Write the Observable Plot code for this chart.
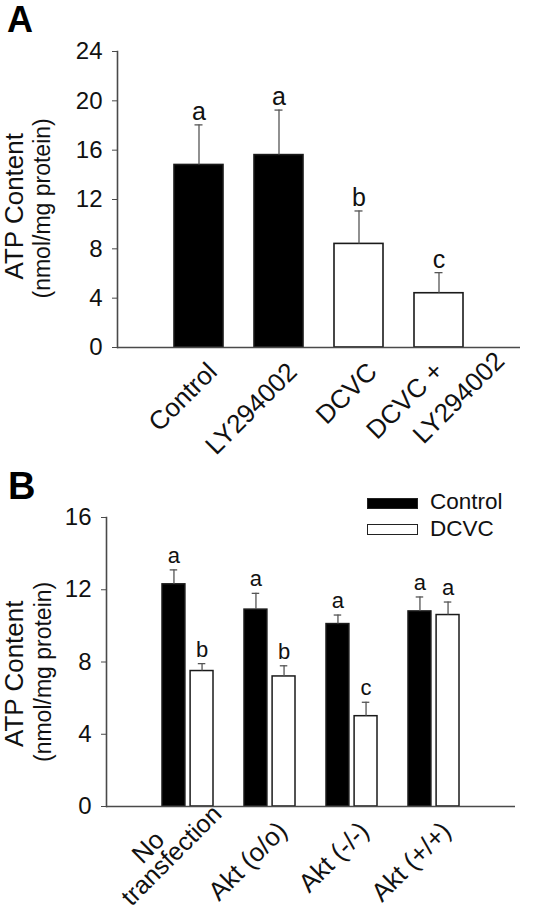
<!DOCTYPE html>
<html>
<head>
<meta charset="utf-8">
<script src="https://cdn.jsdelivr.net/npm/d3@7"></script>
<script src="https://cdn.jsdelivr.net/npm/@observablehq/plot@0.6"></script>
<style>
  html, body { margin: 0; padding: 0; background: #fff; }
  #wrap { position: relative; width: 550px; height: 916px; overflow: hidden;
          font-family: "Liberation Sans", Arial, Helvetica, sans-serif; color: #111; }
  .panelA, .panelB { position: absolute; left: 0; width: 550px; }
  .panelA { top: 0; }
  .panelB { top: 460px; }
  .panelA svg, .panelB svg { display: block; }
  .tag { position: absolute; font-weight: bold; line-height: 1; color: #000; }
  .lg-box { position: absolute; left: 367px; width: 51px; box-sizing: border-box; border: 1.5px solid #222; }
  .lg-text { position: absolute; left: 430px; font-size: 22.5px; line-height: 1; color: #111; }
</style>
</head>
<body>
<div id="wrap">
  <div class="panelA" id="panelA"></div>
  <div class="panelB" id="panelB"></div>
  <div class="tag" style="left:7px; top:2px; font-size:36px;">A</div>
  <div class="tag" style="left:8px; top:467px; font-size:38px;">B</div>
  <div class="lg-box" style="top:498px; height:11px; background:#000;"></div>
  <div class="lg-text" style="top:491px;">Control</div>
  <div class="lg-box" style="top:524px; height:11px; background:#fff;"></div>
  <div class="lg-text" style="top:518px;">DCVC</div>
</div>
<script>
// ---------- Panel A data ----------
const categoriesA = ["Control", "LY294002", "DCVC", "DCVC +\nLY294002"];
const treatmentA = ["Control", "Control", "DCVC", "DCVC"];
const meanA = [14.8, 15.6, 8.4, 4.4];
const errorA = [3.25, 3.65, 2.67, 1.67];
const letterA = ["a", "a", "b", "c"];
const ticksA = [0, 4, 8, 12, 16, 20, 24];

// ---------- Panel B data ----------
const categoriesB = ["No\ntransfection", "Akt (o/o)", "Akt (-/-)", "Akt (+/+)"];
const seriesB = ["Control", "DCVC"];
const controlMeanB = [12.3, 10.9, 10.1, 10.8];
const controlErrorB = [0.8, 0.9, 0.5, 0.8];
const dcvcMeanB = [7.5, 7.2, 5.0, 10.6];
const dcvcErrorB = [0.41, 0.59, 0.77, 0.72];
const controlLetterB = ["a", "a", "a", "a"];
const dcvcLetterB = ["b", "b", "c", "a"];
const ticksB = [0, 4, 8, 12, 16];

const yTitle = "ATP Content";
const ySubtitle = "(nmol/mg protein)";

// ---------- shared styling ----------
const FONT = "'Liberation Sans', Arial, Helvetica, sans-serif";
const INK = "#111";
const AXIS = "#4a4a4a";

function single(cats) { return cats.filter(c => !c.includes("\n")); }
function multi(cats) { return cats.filter(c => c.includes("\n")); }

// stretch the rotated titles along their baseline (they are anchored at their start)
function stretchTitles(svg, lenMain, lenSub) {
  const a = svg.querySelector('g[aria-label="y-title"] text');
  const b = svg.querySelector('g[aria-label="y-subtitle"] text');
  if (a) { a.setAttribute("textLength", lenMain); a.setAttribute("lengthAdjust", "spacingAndGlyphs"); }
  if (b) { b.setAttribute("textLength", lenSub); b.setAttribute("lengthAdjust", "spacingAndGlyphs"); }
}

// ---------- Panel A ----------
const dataA = categoriesA.map((c, i) => ({
  cat: c, group: treatmentA[i], mean: meanA[i], top: meanA[i] + errorA[i], letter: letterA[i]
}));

const plotA = Plot.plot({
  width: 550, height: 460,
  marginLeft: 117, marginRight: 30, marginTop: 51, marginBottom: 113,
  style: { fontFamily: FONT, background: "transparent", color: INK, overflow: "visible" },
  x: { domain: categoriesA, paddingInner: 0.39, paddingOuter: 0.705, axis: null },
  y: { domain: [0, 24], axis: null },
  color: { domain: seriesB, range: ["#000", "#fff"] },
  marks: [
    Plot.barY(dataA, { x: "cat", y: "mean", fill: "group", stroke: "#1a1a1a", strokeWidth: 1.6 }),
    Plot.ruleX(dataA, { x: "cat", y1: "mean", y2: "top", stroke: "#555", strokeWidth: 1.3 }),
    Plot.tickY(dataA, { x: "cat", y: "top", insetLeft: 20.5, insetRight: 20.5, stroke: "#555", strokeWidth: 1.3 }),
    Plot.text(dataA, { x: "cat", y: "top", text: "letter", lineAnchor: "bottom", dy: -5, fontSize: 25, fill: INK }),
    Plot.axisY(ticksA, { tickSize: 5, tickPadding: 10, fontSize: 24, stroke: AXIS, fill: INK, label: null }),
    Plot.ruleY([0], { stroke: AXIS, strokeWidth: 1.6 }),
    Plot.frame({ anchor: "left", stroke: AXIS, strokeWidth: 1.6 }),
    // category labels
    Plot.text(single(categoriesA), { x: d => d, text: d => d, frameAnchor: "bottom", rotate: -45,
      textAnchor: "end", lineAnchor: "bottom", dx: 19.5, dy: 26, fontSize: 26, fill: INK }),
    Plot.text(multi(categoriesA), { x: d => d, text: d => d.split("\n")[0], frameAnchor: "bottom", rotate: -45,
      textAnchor: "end", lineAnchor: "bottom", dx: 6, dy: 25, fontSize: 26, fill: INK }),
    Plot.text(multi(categoriesA), { x: d => d, text: d => d.split("\n")[1], frameAnchor: "bottom", rotate: -45,
      textAnchor: "end", lineAnchor: "bottom", dx: 67, dy: 15, fontSize: 26, fill: INK }),
    // y titles (start-anchored, shifted down by half their length so they sit centred)
    Plot.text([yTitle], { text: d => d, frameAnchor: "left", rotate: -90, textAnchor: "start",
      dx: -103, dy: 80, fontSize: 26, fill: INK, ariaLabel: "y-title" }),
    Plot.text([ySubtitle], { text: d => d, frameAnchor: "left", rotate: -90, textAnchor: "start",
      dx: -75, dy: 99, fontSize: 23, fill: INK, ariaLabel: "y-subtitle" })
  ]
});
stretchTitles(plotA, 161, 201);
document.getElementById("panelA").appendChild(plotA);

// ---------- Panel B ----------
const rowsB = categoriesB.flatMap((c, i) => [
  { cat: c, series: seriesB[0], mean: controlMeanB[i], top: controlMeanB[i] + controlErrorB[i], letter: controlLetterB[i] },
  { cat: c, series: seriesB[1], mean: dcvcMeanB[i], top: dcvcMeanB[i] + dcvcErrorB[i], letter: dcvcLetterB[i] }
]);
const ctlB = rowsB.filter(d => d.series === seriesB[0]);
const dcvB = rowsB.filter(d => d.series === seriesB[1]);

const BAR_INSET = 28.1;   // splits a 51.5px band into two 23.4px bars
const OFF = 14.05;        // bar centre offset from band centre

const plotB = Plot.plot({
  width: 550, height: 456,
  marginLeft: 106, marginRight: 35, marginTop: 57, marginBottom: 110,
  style: { fontFamily: FONT, background: "transparent", color: INK, overflow: "visible" },
  x: { domain: categoriesB, paddingInner: 0.376, paddingOuter: 0.667, axis: null },
  y: { domain: [0, 16], axis: null },
  color: { domain: seriesB, range: ["#000", "#fff"] },
  marks: [
    Plot.barY(ctlB, { x: "cat", y: "mean", fill: "series", insetRight: BAR_INSET, stroke: "#1a1a1a", strokeWidth: 1.5 }),
    Plot.barY(dcvB, { x: "cat", y: "mean", fill: "series", insetLeft: BAR_INSET, stroke: "#1a1a1a", strokeWidth: 1.5 }),
    Plot.ruleX(ctlB, { x: "cat", y1: "mean", y2: "top", dx: -OFF, stroke: "#555", strokeWidth: 1.3 }),
    Plot.ruleX(dcvB, { x: "cat", y1: "mean", y2: "top", dx: OFF, stroke: "#555", strokeWidth: 1.3 }),
    Plot.tickY(ctlB, { x: "cat", y: "top", insetLeft: 7.7, insetRight: 35.8, stroke: "#555", strokeWidth: 1.3 }),
    Plot.tickY(dcvB, { x: "cat", y: "top", insetLeft: 35.8, insetRight: 7.7, stroke: "#555", strokeWidth: 1.3 }),
    Plot.text(ctlB, { x: "cat", y: "top", text: "letter", dx: -OFF, lineAnchor: "bottom", dy: -7, fontSize: 22, fill: INK }),
    Plot.text(dcvB, { x: "cat", y: "top", text: "letter", dx: OFF, lineAnchor: "bottom", dy: -7, fontSize: 22, fill: INK }),
    Plot.axisY(ticksB, { tickSize: 5, tickPadding: 10, fontSize: 24, stroke: AXIS, fill: INK, label: null }),
    Plot.ruleY([0], { stroke: AXIS, strokeWidth: 1.6 }),
    Plot.frame({ anchor: "left", stroke: AXIS, strokeWidth: 1.6 }),
    // category labels
    Plot.text(single(categoriesB), { x: d => d, text: d => d, frameAnchor: "bottom", rotate: -45,
      textAnchor: "end", lineAnchor: "bottom", dx: 18.5, dy: 26, fontSize: 26, fill: INK }),
    Plot.text(multi(categoriesB), { x: d => d, text: d => d.split("\n")[0], frameAnchor: "bottom", rotate: -45,
      textAnchor: "end", lineAnchor: "bottom", dx: -22, dy: 35, fontSize: 26, fill: INK }),
    Plot.text(multi(categoriesB), { x: d => d, text: d => d.split("\n")[1], frameAnchor: "bottom", rotate: -45,
      textAnchor: "end", lineAnchor: "bottom", dx: 35, dy: 9, fontSize: 25, fill: INK }),
    // y titles
    Plot.text([yTitle], { text: d => d, frameAnchor: "left", rotate: -90, textAnchor: "start",
      dx: -92, dy: 85, fontSize: 26, fill: INK, ariaLabel: "y-title" }),
    Plot.text([ySubtitle], { text: d => d, frameAnchor: "left", rotate: -90, textAnchor: "start",
      dx: -63, dy: 100, fontSize: 23, fill: INK, ariaLabel: "y-subtitle" })
  ]
});
stretchTitles(plotB, 170, 201);
document.getElementById("panelB").appendChild(plotB);
</script>
</body>
</html>
